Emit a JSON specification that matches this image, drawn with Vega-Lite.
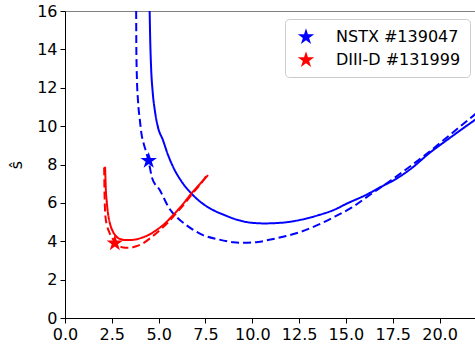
{
  "$schema": "https://vega.github.io/schema/vega-lite/v6.json",
  "autosize": {"type": "none"},
  "padding": {"left": 65, "top": 11, "right": 0, "bottom": 29},
  "width": 412,
  "height": 307,
  "config": {
    "font": "DejaVu Sans",
    "view": {"stroke": "#808080", "strokeWidth": 1},
    "axis": {"grid": false, "domainColor": "#000000", "tickColor": "#000000", "labelColor": "#000000", "labelFontSize": 16, "tickSize": 5, "labelFont": "DejaVu Sans", "titleFont": "DejaVu Sans", "labelOverlap": false, "labelBound": false, "labelFlush": false}
  },
  "datasets": {
    "curves": [
      {"machine": "NSTX #139047", "kind": "solid", "i": 1, "x": 4.52, "y": 16.0},
      {"machine": "NSTX #139047", "kind": "solid", "i": 2, "x": 4.55, "y": 14.5},
      {"machine": "NSTX #139047", "kind": "solid", "i": 3, "x": 4.6, "y": 13.0},
      {"machine": "NSTX #139047", "kind": "solid", "i": 4, "x": 4.68, "y": 11.8},
      {"machine": "NSTX #139047", "kind": "solid", "i": 5, "x": 4.8, "y": 10.8},
      {"machine": "NSTX #139047", "kind": "solid", "i": 6, "x": 4.95, "y": 10.0},
      {"machine": "NSTX #139047", "kind": "solid", "i": 7, "x": 5.23, "y": 9.27},
      {"machine": "NSTX #139047", "kind": "solid", "i": 8, "x": 5.5, "y": 8.5},
      {"machine": "NSTX #139047", "kind": "solid", "i": 9, "x": 5.77, "y": 7.88},
      {"machine": "NSTX #139047", "kind": "solid", "i": 10, "x": 6.2, "y": 7.15},
      {"machine": "NSTX #139047", "kind": "solid", "i": 11, "x": 6.75, "y": 6.49},
      {"machine": "NSTX #139047", "kind": "solid", "i": 12, "x": 7.3, "y": 6.0},
      {"machine": "NSTX #139047", "kind": "solid", "i": 13, "x": 7.9, "y": 5.63},
      {"machine": "NSTX #139047", "kind": "solid", "i": 14, "x": 8.5, "y": 5.37},
      {"machine": "NSTX #139047", "kind": "solid", "i": 15, "x": 8.97, "y": 5.19},
      {"machine": "NSTX #139047", "kind": "solid", "i": 16, "x": 9.5, "y": 5.04},
      {"machine": "NSTX #139047", "kind": "solid", "i": 17, "x": 10.0, "y": 4.96},
      {"machine": "NSTX #139047", "kind": "solid", "i": 18, "x": 10.65, "y": 4.93},
      {"machine": "NSTX #139047", "kind": "solid", "i": 19, "x": 11.5, "y": 4.96},
      {"machine": "NSTX #139047", "kind": "solid", "i": 20, "x": 12.5, "y": 5.1},
      {"machine": "NSTX #139047", "kind": "solid", "i": 21, "x": 13.5, "y": 5.35},
      {"machine": "NSTX #139047", "kind": "solid", "i": 22, "x": 14.4, "y": 5.65},
      {"machine": "NSTX #139047", "kind": "solid", "i": 23, "x": 15.0, "y": 5.94},
      {"machine": "NSTX #139047", "kind": "solid", "i": 24, "x": 16.0, "y": 6.38},
      {"machine": "NSTX #139047", "kind": "solid", "i": 25, "x": 17.0, "y": 6.9},
      {"machine": "NSTX #139047", "kind": "solid", "i": 26, "x": 17.5, "y": 7.15},
      {"machine": "NSTX #139047", "kind": "solid", "i": 27, "x": 18.5, "y": 7.8},
      {"machine": "NSTX #139047", "kind": "solid", "i": 28, "x": 19.4, "y": 8.55},
      {"machine": "NSTX #139047", "kind": "solid", "i": 29, "x": 20.5, "y": 9.35},
      {"machine": "NSTX #139047", "kind": "solid", "i": 30, "x": 22.0, "y": 10.4},
      {"machine": "NSTX #139047", "kind": "dashed", "i": 1, "x": 3.8, "y": 16.0},
      {"machine": "NSTX #139047", "kind": "dashed", "i": 2, "x": 3.81, "y": 14.0},
      {"machine": "NSTX #139047", "kind": "dashed", "i": 3, "x": 3.84, "y": 12.5},
      {"machine": "NSTX #139047", "kind": "dashed", "i": 4, "x": 3.9, "y": 11.3},
      {"machine": "NSTX #139047", "kind": "dashed", "i": 5, "x": 4.0, "y": 10.3},
      {"machine": "NSTX #139047", "kind": "dashed", "i": 6, "x": 4.08, "y": 9.62},
      {"machine": "NSTX #139047", "kind": "dashed", "i": 7, "x": 4.2, "y": 9.1},
      {"machine": "NSTX #139047", "kind": "dashed", "i": 8, "x": 4.35, "y": 8.6},
      {"machine": "NSTX #139047", "kind": "dashed", "i": 9, "x": 4.48, "y": 8.1},
      {"machine": "NSTX #139047", "kind": "dashed", "i": 10, "x": 4.65, "y": 7.3},
      {"machine": "NSTX #139047", "kind": "dashed", "i": 11, "x": 5.06, "y": 6.67},
      {"machine": "NSTX #139047", "kind": "dashed", "i": 12, "x": 5.59, "y": 5.68},
      {"machine": "NSTX #139047", "kind": "dashed", "i": 13, "x": 6.03, "y": 5.2},
      {"machine": "NSTX #139047", "kind": "dashed", "i": 14, "x": 6.48, "y": 4.84},
      {"machine": "NSTX #139047", "kind": "dashed", "i": 15, "x": 7.37, "y": 4.32},
      {"machine": "NSTX #139047", "kind": "dashed", "i": 16, "x": 8.17, "y": 4.1},
      {"machine": "NSTX #139047", "kind": "dashed", "i": 17, "x": 9.0, "y": 3.95},
      {"machine": "NSTX #139047", "kind": "dashed", "i": 18, "x": 9.6, "y": 3.92},
      {"machine": "NSTX #139047", "kind": "dashed", "i": 19, "x": 10.3, "y": 3.96},
      {"machine": "NSTX #139047", "kind": "dashed", "i": 20, "x": 10.84, "y": 4.06},
      {"machine": "NSTX #139047", "kind": "dashed", "i": 21, "x": 11.7, "y": 4.25},
      {"machine": "NSTX #139047", "kind": "dashed", "i": 22, "x": 12.62, "y": 4.5},
      {"machine": "NSTX #139047", "kind": "dashed", "i": 23, "x": 13.5, "y": 4.85},
      {"machine": "NSTX #139047", "kind": "dashed", "i": 24, "x": 14.4, "y": 5.28},
      {"machine": "NSTX #139047", "kind": "dashed", "i": 25, "x": 15.3, "y": 5.75},
      {"machine": "NSTX #139047", "kind": "dashed", "i": 26, "x": 16.18, "y": 6.35},
      {"machine": "NSTX #139047", "kind": "dashed", "i": 27, "x": 17.43, "y": 7.19},
      {"machine": "NSTX #139047", "kind": "dashed", "i": 28, "x": 18.5, "y": 7.95},
      {"machine": "NSTX #139047", "kind": "dashed", "i": 29, "x": 19.4, "y": 8.62},
      {"machine": "NSTX #139047", "kind": "dashed", "i": 30, "x": 20.5, "y": 9.5},
      {"machine": "NSTX #139047", "kind": "dashed", "i": 31, "x": 22.0, "y": 10.7},
      {"machine": "DIII-D #131999", "kind": "solid", "i": 1, "x": 2.14, "y": 7.88},
      {"machine": "DIII-D #131999", "kind": "solid", "i": 2, "x": 2.16, "y": 7.3},
      {"machine": "DIII-D #131999", "kind": "solid", "i": 3, "x": 2.18, "y": 6.7},
      {"machine": "DIII-D #131999", "kind": "solid", "i": 4, "x": 2.22, "y": 6.15},
      {"machine": "DIII-D #131999", "kind": "solid", "i": 5, "x": 2.29, "y": 5.5},
      {"machine": "DIII-D #131999", "kind": "solid", "i": 6, "x": 2.4, "y": 4.93},
      {"machine": "DIII-D #131999", "kind": "solid", "i": 7, "x": 2.56, "y": 4.5},
      {"machine": "DIII-D #131999", "kind": "solid", "i": 8, "x": 2.75, "y": 4.24},
      {"machine": "DIII-D #131999", "kind": "solid", "i": 9, "x": 3.0, "y": 4.1},
      {"machine": "DIII-D #131999", "kind": "solid", "i": 10, "x": 3.28, "y": 4.06},
      {"machine": "DIII-D #131999", "kind": "solid", "i": 11, "x": 3.6, "y": 4.07},
      {"machine": "DIII-D #131999", "kind": "solid", "i": 12, "x": 3.99, "y": 4.15},
      {"machine": "DIII-D #131999", "kind": "solid", "i": 13, "x": 4.4, "y": 4.3},
      {"machine": "DIII-D #131999", "kind": "solid", "i": 14, "x": 4.88, "y": 4.58},
      {"machine": "DIII-D #131999", "kind": "solid", "i": 15, "x": 5.3, "y": 4.9},
      {"machine": "DIII-D #131999", "kind": "solid", "i": 16, "x": 5.77, "y": 5.36},
      {"machine": "DIII-D #131999", "kind": "solid", "i": 17, "x": 6.25, "y": 5.88},
      {"machine": "DIII-D #131999", "kind": "solid", "i": 18, "x": 6.75, "y": 6.49},
      {"machine": "DIII-D #131999", "kind": "solid", "i": 19, "x": 7.2, "y": 6.98},
      {"machine": "DIII-D #131999", "kind": "solid", "i": 20, "x": 7.64, "y": 7.45},
      {"machine": "DIII-D #131999", "kind": "dashed", "i": 1, "x": 2.09, "y": 7.85},
      {"machine": "DIII-D #131999", "kind": "dashed", "i": 2, "x": 2.1, "y": 7.2},
      {"machine": "DIII-D #131999", "kind": "dashed", "i": 3, "x": 2.11, "y": 6.5},
      {"machine": "DIII-D #131999", "kind": "dashed", "i": 4, "x": 2.13, "y": 5.8},
      {"machine": "DIII-D #131999", "kind": "dashed", "i": 5, "x": 2.16, "y": 5.28},
      {"machine": "DIII-D #131999", "kind": "dashed", "i": 6, "x": 2.25, "y": 4.8},
      {"machine": "DIII-D #131999", "kind": "dashed", "i": 7, "x": 2.39, "y": 4.41},
      {"machine": "DIII-D #131999", "kind": "dashed", "i": 8, "x": 2.6, "y": 4.05},
      {"machine": "DIII-D #131999", "kind": "dashed", "i": 9, "x": 2.83, "y": 3.8},
      {"machine": "DIII-D #131999", "kind": "dashed", "i": 10, "x": 3.1, "y": 3.68},
      {"machine": "DIII-D #131999", "kind": "dashed", "i": 11, "x": 3.45, "y": 3.66},
      {"machine": "DIII-D #131999", "kind": "dashed", "i": 12, "x": 3.8, "y": 3.74},
      {"machine": "DIII-D #131999", "kind": "dashed", "i": 13, "x": 4.16, "y": 3.89},
      {"machine": "DIII-D #131999", "kind": "dashed", "i": 14, "x": 4.6, "y": 4.2},
      {"machine": "DIII-D #131999", "kind": "dashed", "i": 15, "x": 5.06, "y": 4.58},
      {"machine": "DIII-D #131999", "kind": "dashed", "i": 16, "x": 5.5, "y": 4.98},
      {"machine": "DIII-D #131999", "kind": "dashed", "i": 17, "x": 5.9, "y": 5.42},
      {"machine": "DIII-D #131999", "kind": "dashed", "i": 18, "x": 6.4, "y": 5.98},
      {"machine": "DIII-D #131999", "kind": "dashed", "i": 19, "x": 6.9, "y": 6.6},
      {"machine": "DIII-D #131999", "kind": "dashed", "i": 20, "x": 7.3, "y": 7.05},
      {"machine": "DIII-D #131999", "kind": "dashed", "i": 21, "x": 7.6, "y": 7.5}
    ],
    "stars": [
      {"machine": "NSTX #139047", "x": 4.47, "y": 8.2},
      {"machine": "DIII-D #131999", "x": 2.66, "y": 3.9}
    ]
  },
  "encoding": {
    "x": {"field": "x", "type": "quantitative", "scale": {"domain": [0, 22], "nice": false},
          "axis": {"values": [0, 2.5, 5, 7.5, 10, 12.5, 15, 17.5, 20], "format": ".1f", "title": null, "labelPadding": 3, "labelOverlap": false}},
    "y": {"field": "y", "type": "quantitative", "scale": {"domain": [0, 16], "nice": false},
          "axis": {"values": [0, 2, 4, 6, 8, 10, 12, 14, 16], "title": "ŝ", "titleFontSize": 16, "titleFontWeight": "normal", "titlePadding": 12, "labelPadding": 3, "labelOverlap": false}}
  },
  "layer": [
    {
      "data": {"name": "curves"},
      "mark": {"type": "line", "strokeWidth": 2, "clip": true, "interpolate": "monotone"},
      "encoding": {
        "detail": {"field": "kind"},
        "order": {"field": "i", "type": "quantitative"},
        "color": {"field": "machine", "type": "nominal", "scale": {"domain": ["NSTX #139047", "DIII-D #131999"], "range": ["#0000ff", "#ff0000"]}, "legend": null},
        "strokeDash": {"field": "kind", "type": "nominal", "scale": {"domain": ["solid", "dashed"], "range": [[1, 0], [8, 4]]}, "legend": null}
      }
    },
    {
      "data": {"name": "stars"},
      "mark": {"type": "point", "filled": true, "opacity": 1, "size": 300, "shape": "M0,-1L0.2245,-0.309L0.9511,-0.309L0.3633,0.118L0.5878,0.809L0,0.382L-0.5878,0.809L-0.3633,0.118L-0.9511,-0.309L-0.2245,-0.309Z"},
      "encoding": {
        "color": {"field": "machine", "type": "nominal", "scale": {"domain": ["NSTX #139047", "DIII-D #131999"], "range": ["#0000ff", "#ff0000"]},
          "legend": {"title": null, "orient": "none", "legendX": 220, "legendY": 8, "labelFontSize": 16, "labelFont": "DejaVu Sans", "labelColor": "#000000",
            "symbolType": "M0,-1L0.2245,-0.309L0.9511,-0.309L0.3633,0.118L0.5878,0.809L0,0.382L-0.5878,0.809L-0.3633,0.118L-0.9511,-0.309L-0.2245,-0.309Z",
            "symbolSize": 300, "symbolStrokeWidth": 0, "symbolOpacity": 1, "symbolOffset": 3, "labelOffset": 21, "rowPadding": 6, "padding": 9,
            "strokeColor": "#cccccc", "fillColor": "#ffffff", "cornerRadius": 4}}
      }
    }
  ],
  "resolve": {"scale": {"color": "independent"}}
}
